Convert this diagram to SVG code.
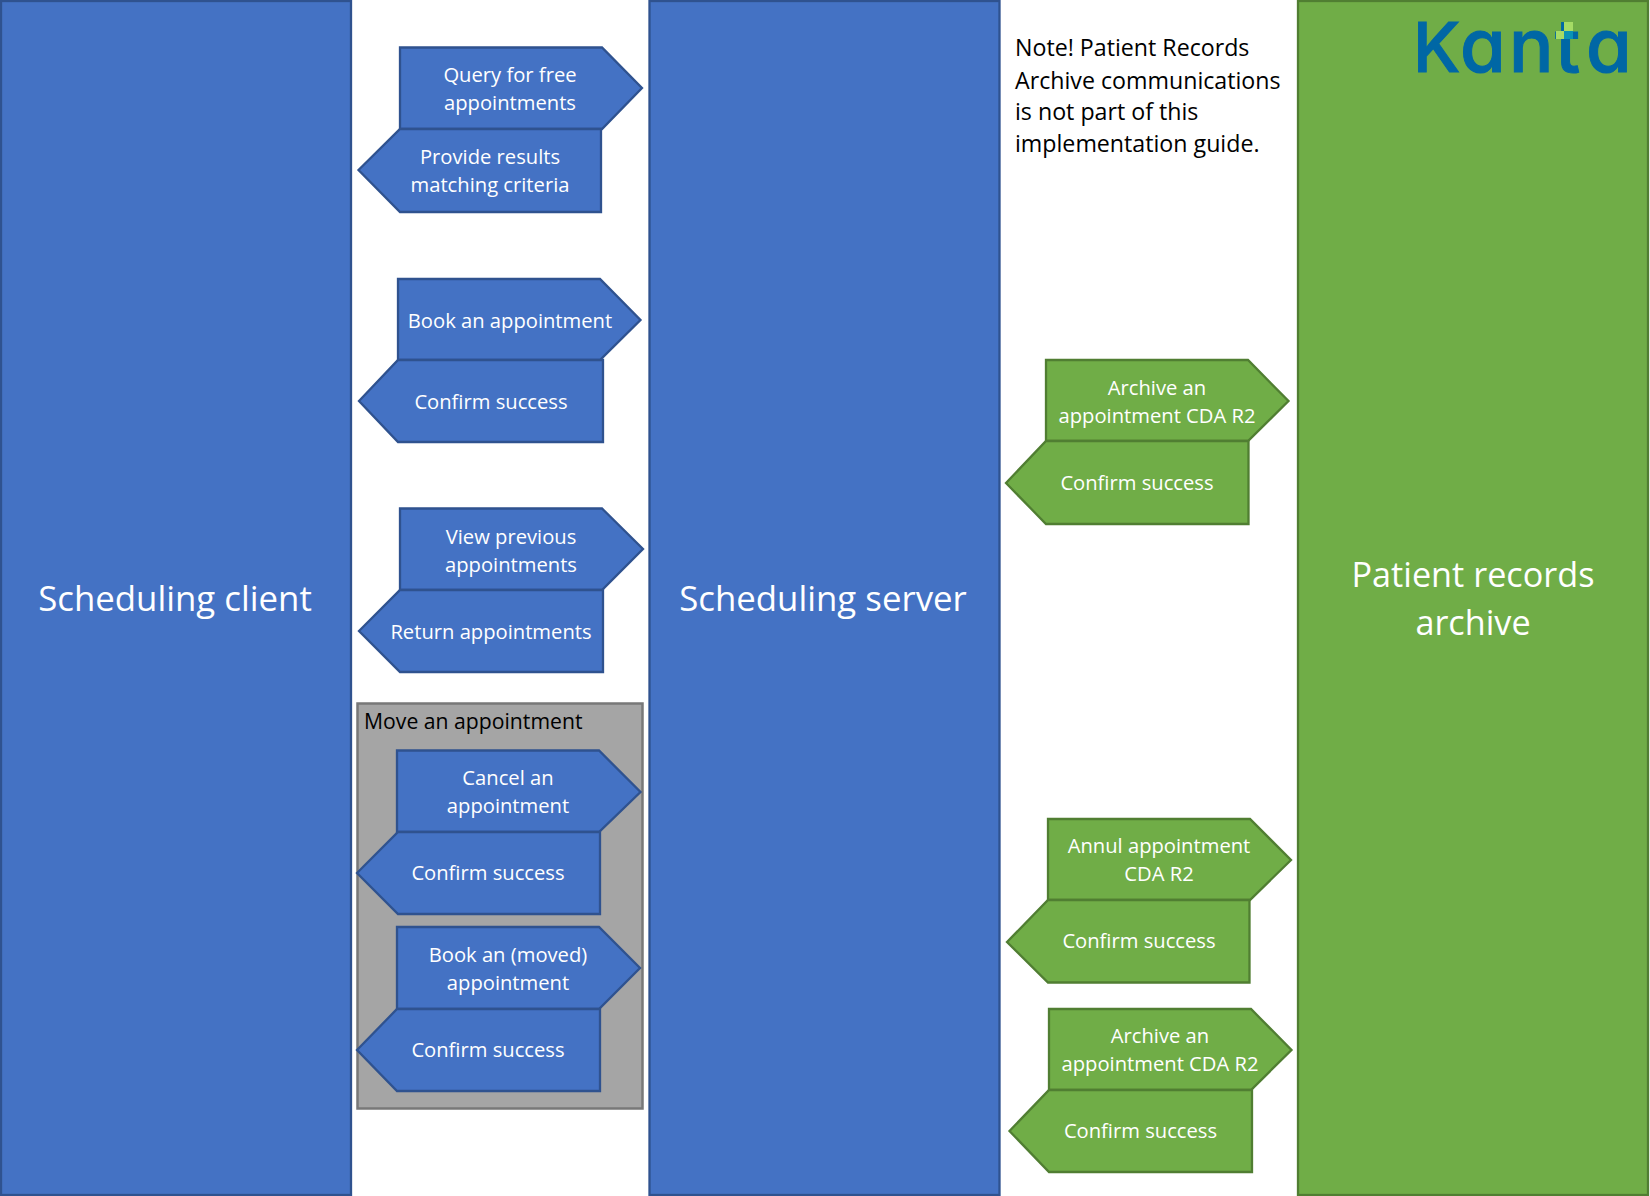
<svg xmlns="http://www.w3.org/2000/svg" width="1650" height="1196" viewBox="0 0 1650 1196">
<style>
text{font-family:"Open Sans","Noto Sans","Liberation Sans",sans-serif;}
.b{fill:#4472C4;stroke:#2F528F;stroke-width:2.3}
.g{fill:#70AD47;stroke:#507E32;stroke-width:2.3}
.t{fill:#fff;font-size:20.2px;text-anchor:middle}
.h{fill:#fff;font-size:34.8px;text-anchor:middle}
.n{fill:#000;font-size:23.2px}
.logo{font-family:Inter,"Open Sans",sans-serif;font-weight:500;font-feature-settings:"cv11";stroke:#0067A5;stroke-width:1}
</style>
<rect width="1650" height="1196" fill="#fff"/>
<g id="scheduling-client"><rect class="b" x="1" y="1" width="350" height="1194"/><text class="h" x="175" y="611">Scheduling client</text></g>
<g id="scheduling-server"><rect class="b" x="649.500" y="1" width="350" height="1194"/><text class="h" x="823" y="611">Scheduling server</text></g>
<g id="patient-records-archive"><rect class="g" x="1298" y="1" width="350" height="1194"/><text class="h" style="font-size:34.2px" x="1473" y="587">Patient records</text><text class="h" style="font-size:34.2px" x="1473" y="635">archive</text></g>
<g id="kanta-logo"><text class="logo" y="71.500" fill="#0067A5"><tspan x="1413" font-size="69">K</tspan><tspan x="1460 1509 1555 1586" font-size="74">anta</tspan></text><rect x="1556" y="31" width="8" height="8" fill="#A5DB65"/><rect x="1564" y="22" width="9" height="9" fill="#A5DB65"/><rect x="1564" y="31" width="9" height="8" fill="#0A93B5"/></g>
<g id="note"><text class="n" x="1015" y="56">Note! Patient Records</text><text class="n" x="1015" y="89">Archive communications</text><text class="n" x="1015" y="120">is not part of this</text><text class="n" x="1015" y="152">implementation guide.</text></g>
<g id="move-group"><rect x="357.500" y="703.500" width="285" height="405" fill="#A5A5A5" stroke="#787878" stroke-width="2.500"/><text x="364" y="728.500" style="font-size:21.2px" fill="#000">Move an appointment</text></g>
<g id="query"><polygon class="b" points="400,47.500 602,47.500 642,88 602,129 400,129"/><text class="t" x="510" y="82">Query for free</text><text class="t" x="510" y="110">appointments</text></g>
<g id="provide"><polygon class="b" points="358.500,170 400,129 601,129 601,212 400,212"/><text class="t" x="490" y="164">Provide results</text><text class="t" x="490" y="192">matching criteria</text></g>
<g id="book"><polygon class="b" points="398,279 600,279 640.500,320 600,360 398,360"/><text class="t" x="510" y="328">Book an appointment</text></g>
<g id="confirm-book"><polygon class="b" points="359,401 398,360 603,360 603,442 398,442"/><text class="t" x="491" y="409">Confirm success</text></g>
<g id="view"><polygon class="b" points="400,508.500 602,508.500 643,549 602,590 400,590"/><text class="t" x="511" y="544">View previous</text><text class="t" x="511" y="572">appointments</text></g>
<g id="return"><polygon class="b" points="359,631 400,590 603,590 603,672 400,672"/><text class="t" x="491" y="639">Return appointments</text></g>
<g id="cancel"><polygon class="b" points="397,750.500 599,750.500 640.500,792 599,832 397,832"/><text class="t" x="508" y="785">Cancel an</text><text class="t" x="508" y="813">appointment</text></g>
<g id="confirm-cancel"><polygon class="b" points="357,873 398,832 600,832 600,914 398,914"/><text class="t" x="488" y="880">Confirm success</text></g>
<g id="book-moved"><polygon class="b" points="397,927 599,927 640,968 599,1009 397,1009"/><text class="t" x="508" y="962">Book an (moved)</text><text class="t" x="508" y="990">appointment</text></g>
<g id="confirm-moved"><polygon class="b" points="357,1050 397,1009 600,1009 600,1091 397,1091"/><text class="t" x="488" y="1057">Confirm success</text></g>
<g id="archive-1"><polygon class="g" points="1046,360 1248,360 1288.500,401 1248,441 1046,441"/><text class="t" x="1157" y="395">Archive an</text><text class="t" x="1157" y="423">appointment CDA R2</text></g>
<g id="confirm-archive-1"><polygon class="g" points="1006,483 1046,441 1248.500,441 1248.500,524 1046,524"/><text class="t" x="1137" y="490">Confirm success</text></g>
<g id="annul"><polygon class="g" points="1048,819 1250,819 1291,860 1250,900 1048,900"/><text class="t" x="1159" y="853">Annul appointment</text><text class="t" x="1159" y="881">CDA R2</text></g>
<g id="confirm-annul"><polygon class="g" points="1007,942 1048,900 1249.500,900 1249.500,982.500 1048,982.500"/><text class="t" x="1139" y="948">Confirm success</text></g>
<g id="archive-2"><polygon class="g" points="1049,1009 1251,1009 1291.500,1050 1251,1090 1049,1090"/><text class="t" x="1160" y="1043">Archive an</text><text class="t" x="1160" y="1071">appointment CDA R2</text></g>
<g id="confirm-archive-2"><polygon class="g" points="1009.500,1131 1049,1090 1252,1090 1252,1172 1049,1172"/><text class="t" x="1140.500" y="1138">Confirm success</text></g>
</svg>
